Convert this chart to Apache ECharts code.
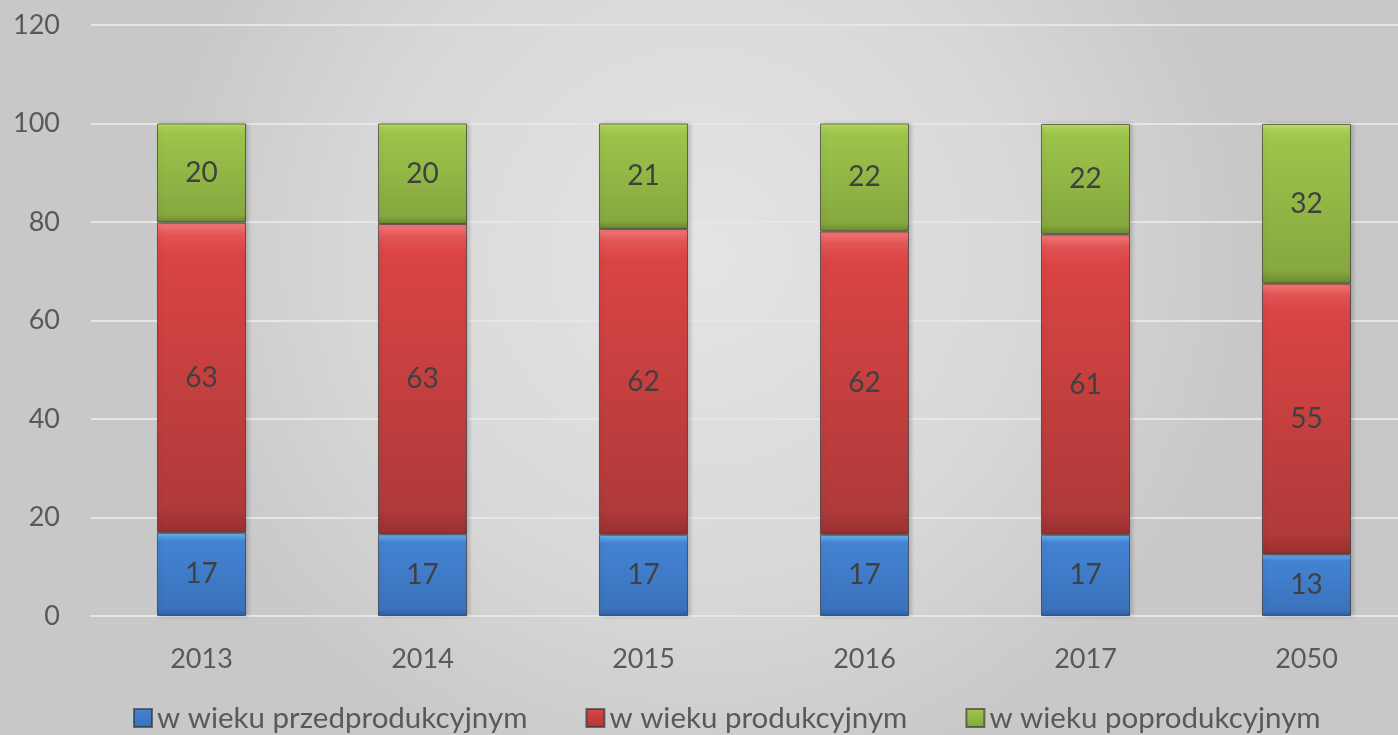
<!DOCTYPE html>
<html>
<head>
<meta charset="utf-8">
<script src="https://cdn.jsdelivr.net/npm/echarts@6/dist/echarts.min.js"></script>
<style>html,body{margin:0;padding:0;}#c{width:1398px;height:735px;}</style>
</head>
<body>
<div id="c"></div>
<script>
const categories = ['2013', '2014', '2015', '2016', '2017', '2050'];
const przed = [16.9, 16.6, 16.5, 16.5, 16.5, 12.5];
const prod = [63.0, 63.0, 62.1, 61.6, 61.0, 55.0];
const poprod = [20.1, 20.4, 21.4, 21.9, 22.4, 32.4];
const seriesNames = ['w wieku przedprodukcyjnym', 'w wieku produkcyjnym', 'w wieku poprodukcyjnym'];
const yTicks = {min: 0, max: 120, interval: 20};

function grad(top, hi, mid, low, bottom) {
  return {type: 'linear', x: 0, y: 0, x2: 0, y2: 1, colorStops: [
    {offset: 0, color: top}, {offset: 0.04, color: hi}, {offset: 0.1, color: mid},
    {offset: 0.92, color: low}, {offset: 1, color: bottom}]};
}
const colors = [
  grad('#7cc0f6', '#5a9ee6', '#4483d2', '#3a72bc', '#2d5f9f'),
  grad('#f47a7a', '#e25555', '#da4444', '#b03a3a', '#983030'),
  grad('#c2e06c', '#a8cd54', '#9dc44b', '#86a83f', '#6a8a30')
];
const fontFam = 'Lato, "Noto Sans", sans-serif';

function mk(name, data, i) {
  return {
    name: name, type: 'bar', stack: 'a', data: data, barWidth: 89,
    itemStyle: {color: colors[i], borderColor: 'rgba(40,40,40,0.6)', borderWidth: 1,
      shadowColor: 'rgba(0,0,0,0.18)', shadowBlur: 4, shadowOffsetX: 2},
    label: {show: true, position: 'inside', color: '#404040', fontSize: 28, fontFamily: fontFam,
      formatter: p => Math.round(p.value)}
  };
}

const chart = echarts.init(document.getElementById('c'));
chart.setOption({
  animation: false,
  backgroundColor: {type: 'radial', x: 0.5, y: 0.35, r: 0.75, colorStops: [
    {offset: 0, color: '#e4e4e4'}, {offset: 0.6, color: '#d8d8d8'}, {offset: 1, color: '#c8c8c8'}]},
  grid: {left: 91, width: 1326, top: 25, bottom: 119, outerBoundsMode: 'none', containLabel: false},
  legend: {
    top: 698, left: 128, itemWidth: 18, itemHeight: 18, itemGap: 58,
    icon: 'rect',
    textStyle: {color: '#595959', fontSize: 29.5, fontFamily: fontFam},
    data: seriesNames
  },
  xAxis: {
    type: 'category', data: categories,
    axisLine: {show: true, lineStyle: {color: '#e6e6e6', width: 2}},
    axisTick: {show: false},
    axisLabel: {color: '#595959', fontSize: 27, fontFamily: fontFam, margin: 30}
  },
  yAxis: {
    type: 'value', min: yTicks.min, max: yTicks.max, interval: yTicks.interval,
    axisLine: {show: false}, axisTick: {show: false},
    splitLine: {lineStyle: {color: '#e6e6e6', width: 2}},
    axisLabel: {color: '#595959', fontSize: 27, fontFamily: fontFam, margin: 31}
  },
  series: [mk(seriesNames[0], przed, 0), mk(seriesNames[1], prod, 1), mk(seriesNames[2], poprod, 2)]
});
</script>
</body>
</html>
